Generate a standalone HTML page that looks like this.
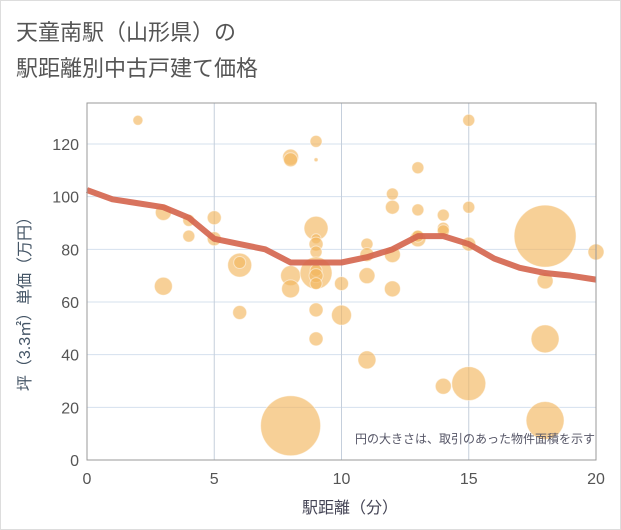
<!DOCTYPE html>
<html><head><meta charset="utf-8"><style>
body{margin:0;background:#fff;}
svg{display:block;font-family:"Liberation Sans","Noto Sans CJK JP",sans-serif;}
</style></head><body>
<svg id="chart" width="621" height="530">
<rect x="0.5" y="0.5" width="620" height="529" fill="#fff" stroke="#ddd"/>
<text x="16" y="40" font-size="22" fill="#555">天童南駅（山形県）の</text>
<text x="16" y="76" font-size="22" fill="#555">駅距離別中古戸建て価格</text>
<g id="grid"></g>
<g id="bubbles"></g>
<g id="line"></g>
<g id="axes"></g>
<text x="595" y="443" font-size="12" fill="#556" text-anchor="end">円の大きさは、取引のあった物件面積を示す</text>
<text x="350" y="513" font-size="16" fill="#445" text-anchor="middle">駅距離（分）</text>
<text transform="translate(30,300) rotate(-90)" font-size="16" fill="#456" text-anchor="middle">坪（3.3㎡）単価（万円）</text>
</svg>
<script>
const xTicks=[0,5,10,15,20];
const yTicks=[0,20,40,60,80,100,120];
const bx=[2,3,3,4,4,5,5,6,6,6,8,8,8,8,8,9,9,9,9,9,9,9,9,9,9,9,9,10,10,11,11,11,11,12,12,12,12,13,13,13,13,14,14,14,14,15,15,15,15,18,18,18,18,20];
const by=[129,94,66,91,85,92,84,74,75,56,115,114,70,65,13,121,114,88,84,82,79,71,72,70,67,57,46,67,55,82,78,70,38,101,96,78,65,111,95,84,85,93,88,87,28,129,96,82,29,85,68,46,15,79];
const bs=[5,8,9,6,6,7,7,12,6,7,8,7,10,9,30,6,2,12,5,7,6,16,6,7,6,7,7,7,10,6,7,8,9,6,7,8,8,6,6,8,6,6,6,6,8,6,6,7,17,31,8,14,19,8];
const lx=[0,1,2,3,4,5,6,7,8,9,10,11,12,13,14,15,16,17,18,19,20];
const ly=[102.5,99,97.5,96,92,84,82,80,75,75,75,77,80,85,85,82,76.5,73,71,70,68.5];
const X0=87,X1=596,Y0=460,YT=103;
const xs=v=>X0+(X1-X0)*v/20;
const ys=v=>Y0-(Y0-144)*v/120;
const NS="http://www.w3.org/2000/svg";
function mk(t,a,p){const e=document.createElementNS(NS,t);for(const k in a)e.setAttribute(k,a[k]);p.appendChild(e);return e;}
const grid=document.getElementById('grid'),axes=document.getElementById('axes');
yTicks.forEach(v=>{
 const l=mk('line',{x1:X0,x2:X1,y1:ys(v),y2:ys(v),stroke:'#d5e0ee','stroke-width':1},grid);
 
 
 const t=mk('text',{x:X0-8,y:ys(v)+6,'font-size':16,fill:'#555','text-anchor':'end'},axes);
 t.textContent=v;
 
 
});
xTicks.forEach(v=>{
 const l=mk('line',{x1:xs(v),x2:xs(v),y1:YT,y2:Y0,stroke:'#c5cfdc','stroke-width':1},grid);
 
 
 const t=mk('text',{x:xs(v),y:Y0+24,'font-size':16,fill:'#555','text-anchor':'middle'},axes);
 t.textContent=v;
 
 
});
const fr=mk('rect',{x:X0,y:YT,width:X1-X0,height:Y0-YT,fill:'none',stroke:'#999','stroke-width':1},axes);


const bg=document.getElementById('bubbles');
bx.forEach((v,i)=>{
 const c=mk('circle',{cx:xs(v),cy:ys(by[i]),r:bs[i],fill:'#f2b760','fill-opacity':0.65,stroke:'#fff','stroke-opacity':0.5,'stroke-width':1},bg);
 
 
});
const p=mk('polyline',{points:lx.map((v,i)=>xs(v)+','+ys(ly[i])).join(' '),fill:'none',stroke:'#d4644c','stroke-opacity':0.9,'stroke-width':6,'stroke-linejoin':'round'},document.getElementById('line'));


</script>
</body></html>
